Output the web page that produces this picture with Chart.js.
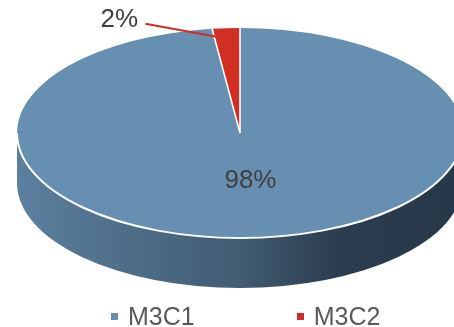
<!DOCTYPE html>
<html>
<head>
<meta charset="utf-8">
<script src="https://cdn.jsdelivr.net/npm/chart.js@4/dist/chart.umd.min.js"></script>
<style>
  html, body { margin: 0; padding: 0; background: #ffffff; }
  #wrap { position: relative; width: 454px; height: 327px; overflow: hidden; }
  #c { position: absolute; left: 0; top: 0; }
  #legend { position: absolute; left: 111px; top: 304px; display: flex; align-items: center;
            font-family: "Liberation Sans", Arial, sans-serif; font-size: 25px; line-height: 25px; color: #595959; }
  .item { display: flex; align-items: center; }
  .item + .item { margin-left: 102px; }
  .sw { width: 7px; height: 7px; margin-right: 10px; }
</style>
</head>
<body>
<div id="wrap">
  <canvas id="c" width="454" height="327"></canvas>
  <div id="legend"></div>
</div>
<script>
// ---- data ----
const categories = ['M3C1', 'M3C2'];
const values = [98, 2];
const percentLabels = ['98%', '2%'];
const sliceColors = ['#678fb2', '#d22f23'];

// ---- 3D projection settings (layout, not data) ----
const PROJ = { cx: 240, cy: 133, rx: 223, ry: 105, depth: 50 };

function project(angle, k) {
  return {
    x: PROJ.cx + PROJ.rx * k * Math.cos(angle),
    y: PROJ.cy + PROJ.ry * k * Math.sin(angle)
  };
}

const pie3d = {
  id: 'pie3d',
  beforeDatasetsDraw(chart) {
    const ctx = chart.ctx;
    const arc = chart.getDatasetMeta(0).data[0];
    const { cx, cy, rx, ry, depth } = PROJ;
    // side wall
    const g = ctx.createLinearGradient(cx - rx, 0, cx + rx, 0);
    g.addColorStop(0, '#5b809e');
    g.addColorStop(0.5, '#415b72');
    g.addColorStop(0.72, '#2b3d4e');
    g.addColorStop(1, '#26374a');
    ctx.save();
    ctx.beginPath();
    ctx.moveTo(cx + rx, cy);
    ctx.lineTo(cx + rx, cy + depth);
    ctx.ellipse(cx, cy + depth, rx, ry, 0, 0, Math.PI, false);
    ctx.lineTo(cx - rx, cy);
    ctx.ellipse(cx, cy, rx, ry, 0, Math.PI, 0, true);
    ctx.closePath();
    ctx.fillStyle = g;
    ctx.fill();
    ctx.restore();
    // tilt the pie top
    ctx.save();
    ctx.translate(cx, cy);
    ctx.scale(rx / arc.outerRadius, ry / arc.outerRadius);
    ctx.translate(-arc.x, -arc.y);
  },
  afterDatasetsDraw(chart) {
    const ctx = chart.ctx;
    ctx.restore();
    const meta = chart.getDatasetMeta(0);
    const { cx, cy, rx, ry } = PROJ;
    // white edges
    ctx.save();
    ctx.strokeStyle = '#ffffff';
    ctx.lineWidth = 2;
    ctx.beginPath();
    ctx.ellipse(cx, cy, rx, ry, 0, 0, Math.PI, false);
    ctx.stroke();
    ctx.lineWidth = 1.6;
    meta.data.forEach(a => {
      const p = project(a.startAngle, 1);
      ctx.beginPath();
      ctx.moveTo(cx, cy);
      ctx.lineTo(p.x, p.y);
      ctx.stroke();
    });
    ctx.restore();
    // labels
    ctx.save();
    ctx.font = '26px "Liberation Sans", Arial, sans-serif';
    ctx.fillStyle = '#404040';
    ctx.textAlign = 'center';
    ctx.textBaseline = 'middle';
    meta.data.forEach((a, i) => {
      const mid = (a.startAngle + a.endAngle) / 2;
      const share = values[i] / values.reduce((s, v) => s + v, 0);
      if (share > 0.5) {
        const p = project(mid, 0.46);
        ctx.fillText(percentLabels[i], p.x + 4, p.y);
      } else {
        const anchor = project(mid, 0.9);
        const lx = anchor.x - 108, ly = anchor.y - 19;
        ctx.strokeStyle = sliceColors[i];
        ctx.lineWidth = 2;
        ctx.beginPath();
        ctx.moveTo(anchor.x - 82, anchor.y - 15);
        ctx.lineTo(anchor.x, anchor.y);
        ctx.stroke();
        ctx.fillText(percentLabels[i], lx, ly);
      }
    });
    ctx.restore();
  }
};

new Chart(document.getElementById('c'), {
  type: 'pie',
  data: {
    labels: categories,
    datasets: [{
      data: values,
      backgroundColor: sliceColors,
      borderWidth: 0
    }]
  },
  options: {
    responsive: false,
    animation: false,
    rotation: 0,
    plugins: { legend: { display: false }, tooltip: { enabled: false } }
  },
  plugins: [pie3d]
});

// legend
const lg = document.getElementById('legend');
categories.forEach((c, i) => {
  const it = document.createElement('div');
  it.className = 'item';
  const sw = document.createElement('span');
  sw.className = 'sw';
  sw.style.background = sliceColors[i];
  const t = document.createElement('span');
  t.textContent = c;
  it.appendChild(sw);
  it.appendChild(t);
  lg.appendChild(it);
});
</script>
</body>
</html>
